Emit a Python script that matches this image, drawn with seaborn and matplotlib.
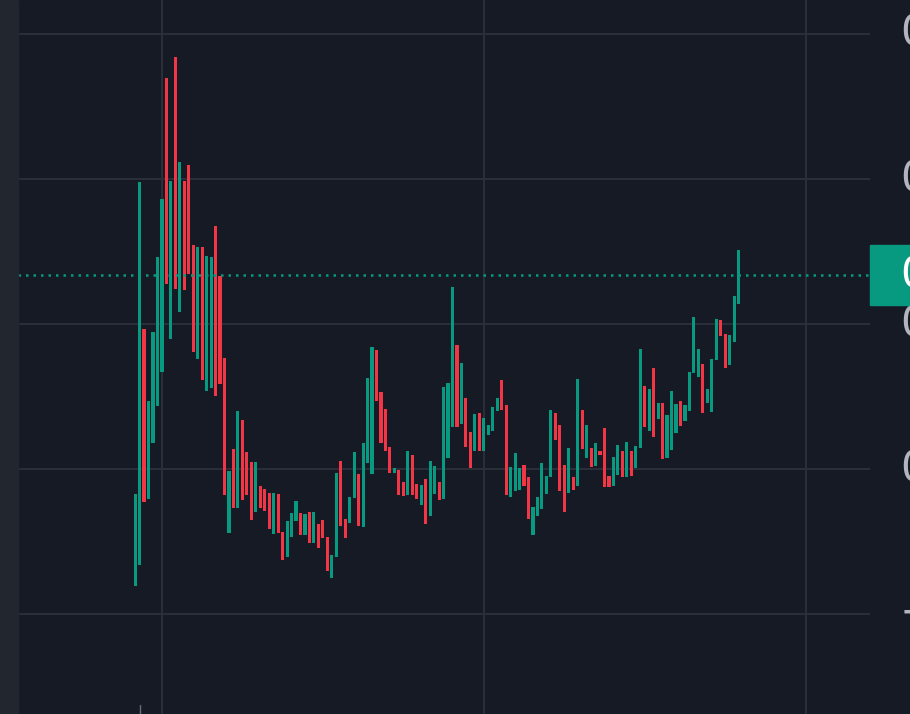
import numpy as np
import matplotlib
matplotlib.use('Agg')
import matplotlib.pyplot as plt
import seaborn as sns

sns.set_style('dark')

# body top / bottom of each bar (chart points) and direction (1 = up/green)
hi = [120, 432, 285, 213, 282, 357, 415, 536, 433, 557, 452, 433, 449, 369, 367, 367, 358, 357, 388, 338,
      256, 143, 165, 203, 194, 162, 152, 152, 128, 125, 121, 121, 120, 82, 93, 101, 113, 101, 100, 102,
      102, 90, 94, 77, 59, 141, 153, 95, 117, 162, 140, 171, 236, 267, 264, 222, 205, 167, 146, 144,
      132, 163, 159, 130, 129, 135, 153, 148, 132, 227, 231, 327, 269, 251, 216, 182, 200, 201, 196, 189,
      207, 216, 234, 209, 147, 161, 146, 149, 137, 107, 117, 151, 138, 204, 201, 189, 149, 166, 137, 235,
      204, 189, 166, 171, 163, 186, 138, 157, 169, 163, 172, 163, 168, 265, 228, 225, 246, 211, 211, 199,
      223, 210, 213, 209, 242, 297, 265, 250, 225, 255, 295, 294, 280, 279, 318, 364]
lo = [28, 49, 112, 115, 171, 208, 242, 330, 275, 325, 302, 324, 340, 262, 255, 234, 223, 226, 218, 230,
      119, 81, 106, 106, 114, 119, 94, 102, 106, 103, 85, 80, 81, 54, 57, 77, 93, 79, 79, 71,
      71, 66, 76, 43, 36, 57, 88, 76, 91, 116, 88, 87, 151, 140, 213, 171, 163, 141, 141, 119,
      118, 119, 119, 115, 109, 90, 98, 120, 114, 115, 156, 187, 187, 190, 167, 146, 163, 163, 163, 179,
      183, 203, 204, 119, 117, 123, 124, 128, 95, 79, 98, 105, 120, 137, 174, 123, 102, 121, 124, 128,
      165, 156, 147, 148, 159, 127, 127, 128, 139, 137, 137, 138, 146, 166, 187, 183, 177, 195, 155, 156,
      164, 181, 188, 193, 203, 241, 237, 201, 211, 202, 254, 278, 246, 249, 272, 310]
up = [1, 1, 0, 1, 1, 1, 1, 0, 1, 0, 1, 0, 0, 0, 1, 0, 1, 1, 0, 0,
      0, 1, 0, 1, 0, 0, 0, 1, 0, 0, 0, 1, 0, 0, 1, 1, 1, 0, 1, 0,
      1, 0, 0, 0, 1, 1, 0, 0, 1, 1, 0, 1, 1, 1, 0, 0, 0, 0, 1, 0,
      0, 1, 0, 0, 1, 0, 1, 1, 0, 1, 1, 1, 0, 1, 0, 0, 1, 0, 1, 1,
      1, 1, 0, 0, 1, 1, 1, 0, 0, 1, 1, 1, 1, 1, 0, 0, 0, 1, 0, 1,
      0, 1, 0, 1, 0, 0, 0, 1, 1, 0, 1, 0, 1, 1, 0, 1, 0, 1, 0, 1,
      1, 1, 0, 1, 1, 1, 1, 0, 1, 1, 1, 0, 0, 1, 1, 1]
last_price = 339
tick_vals = [0, 145, 290, 435, 580]
tick_labels = ['\u22120.0100', '0.0000', '0.0100', '0.0200', '0.0300']
grid_x = [6, 78, 150]

BG = '#161a25'
GREEN = '#089981'
RED = '#f23645'
GRID = '#2a2e39'

hi = np.array(hi)
lo = np.array(lo)
x = np.arange(len(hi))
colors = [GREEN if u else RED for u in up]

fig = plt.figure(figsize=(9.1, 7.14), dpi=100, facecolor=BG)
ax = fig.add_axes([18 / 910, 0, 852 / 910, 1])
ax.set_facecolor(BG)
for v in tick_vals:
    ax.axhline(v, color=GRID, lw=1.5, zorder=0)
for gx in grid_x:
    ax.axvline(gx, color=GRID, lw=1.5, zorder=0)
ax.bar(x, hi - lo, bottom=lo, width=0.7, color=colors, linewidth=0, zorder=2)
ax.axhline(last_price, color=GREEN, lw=1.8, ls=(0, (1, 2)), zorder=3)
ax.set_xlim(-26.2, 164.4)
ax.set_ylim(-100, 614)
ax.set_xticks([])
ax.set_yticks([])
for s in ax.spines.values():
    s.set_visible(False)

# left strip and small marker
fig.patches.append(plt.Rectangle((0, 0), 18 / 910, 1, transform=fig.transFigure, color='#22262f', zorder=0))
ax.plot([1, 1], [-100, -91], color='#6a6d78', lw=1, clip_on=False)

# right price scale
trans = ax.get_yaxis_transform()
for v, lab in zip(tick_vals, tick_labels):
    fig.text(900 / 910, ax.transData.transform((0, v))[1] / 714, lab, color='#b2b5be',
             fontsize=30, va='center', ha='left')
yl = ax.transData.transform((0, last_price))[1] / 714
fig.patches.append(plt.Rectangle((870 / 910, yl - 30 / 714), 40 / 910, 60 / 714,
                                 transform=fig.transFigure, color=GREEN, zorder=5))
fig.text(900 / 910, yl, '0.0235', color='white', fontsize=30, va='center', ha='left', zorder=6)

fig.savefig('out.png', dpi=100, facecolor=BG)
